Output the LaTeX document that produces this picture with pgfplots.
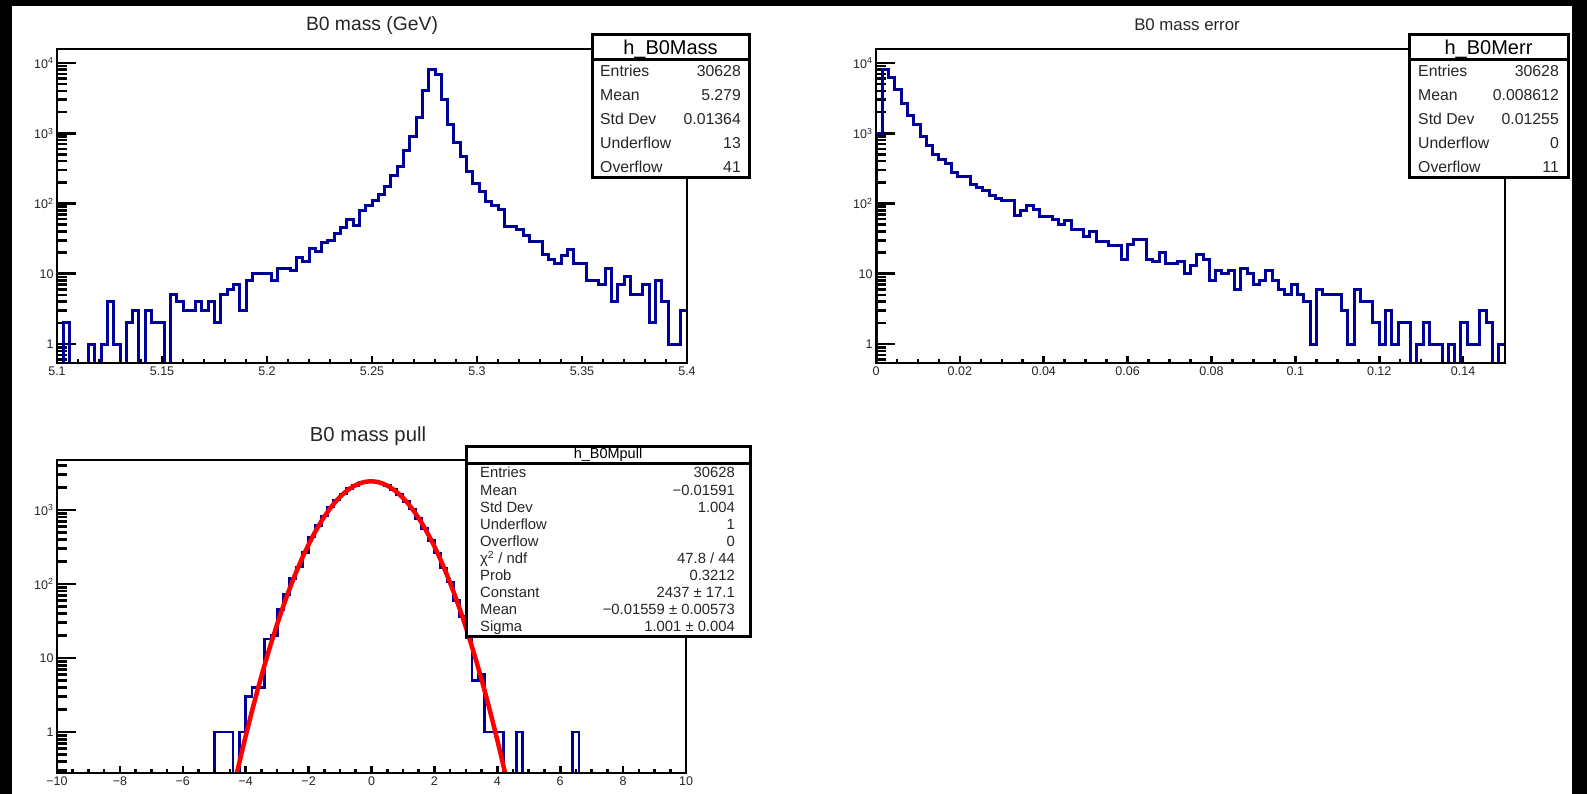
\documentclass[border=0pt]{standalone}
\usepackage{fontspec}
\setmainfont{Liberation Sans}
\usepackage{pgfplots}
\usepackage{pgfplotstable}
\pgfplotsset{compat=1.18}
\definecolor{histblue}{RGB}{0,0,155}
\definecolor{fitred}{RGB}{255,0,0}
\newcommand{\fs}[1]{\fontsize{#1}{#1}\selectfont}

% B0 mass: 100 bins, 5.1..5.4 (first row = start at bottom, last two rows = closing edge)
\pgfplotstableread{
i v
0 0
0 0
1 2
2 0
3 0
4 0
5 1
6 0
7 1
8 4
9 1
10 0
11 2
12 3
13 0
14 3
15 2
16 2
17 0
18 5
19 4
20 3
21 3
22 4
23 3
24 4
25 2
26 5
27 6
28 7
29 3
30 8
31 10
32 10
33 10
34 8
35 12
36 12
37 11
38 17
39 15
40 23
41 21
42 28
43 30
44 38
45 45
46 60
47 48
48 80
49 95
50 110
51 135
52 173
53 253
54 331
55 570
56 908
57 1670
58 4080
59 8040
60 6900
61 3000
62 1340
63 730
64 470
65 283
66 192
67 150
68 106
69 95
70 82
71 47
72 47
73 42
74 35
75 29
76 29
77 19
78 16
79 14
80 18
81 22
82 14
83 14
84 8
85 8
86 7
87 12
88 4
89 7
90 9
91 5
92 5
93 7
94 2
95 8
96 4
97 1
98 1
99 3
100 3
100 0
}\massdata

% B0 mass error: 100 bins, 0..0.15
\pgfplotstableread{
i v
0 0
0 1000
1 8000
2 6300
3 4200
4 2650
5 1800
6 1350
7 910
8 670
9 500
10 425
11 370
12 272
13 240
14 240
15 186
16 168
17 155
18 132
19 118
20 111
21 111
22 68
23 79
24 93
25 82
26 65
27 66
28 59
29 51
30 57
31 43
32 43
33 34
34 40
35 29
36 29
37 25
38 25
39 16
40 26
41 31
42 31
43 16
44 15
45 20
46 14
47 14
48 15
49 10
50 13
51 19
52 16
53 8
54 11
55 10
56 11
57 6
58 12
59 10
60 7
61 8
62 11
63 8
64 6
65 5
66 7
67 5
68 4
69 1
70 6
71 5
72 5
73 5
74 3
75 1
76 6
77 4
78 4
79 2
80 1
81 3
82 1
83 2
84 2
85 0
86 1
87 2
88 1
89 1
90 0
91 1
92 0
93 2
94 1
95 1
96 3
97 2
98 0
99 1
100 1
100 0
}\errdata

% B0 mass pull: 100 bins, -10..10
\pgfplotstableread{
i v
20 0
25 1
26 1
27 1
28 0
29 1
30 3
31 4
32 4
33 18
34 20
35 45
36 72
37 118
38 170
39 268
40 430
41 615
42 830
43 1100
44 1360
45 1640
46 1935
47 2160
48 2350
49 2420
50 2430
51 2310
52 2140
53 1880
54 1610
55 1300
56 1030
57 770
58 565
59 385
60 262
61 165
62 106
63 60
64 36
65 19
66 5
67 6
68 1
69 1
70 1
71 0
72 0
73 1
74 0
75 0
76 0
77 0
78 0
79 0
80 0
81 0
82 1
83 0
84 0
}\pulldata

\begin{document}
\begin{tikzpicture}
\fill[black] (0pt,0pt) rectangle (1587pt,794pt);
\fill[white] (12pt,0pt) rectangle (1572pt,788pt);

% ---------- B0 mass ----------
\begin{axis}[at={(57pt,431pt)}, anchor=south west,
  scale only axis, width=630pt, height=314pt,
  ymode=log,
  axis line style={line width=2.7pt, black},
  tick align=inside, tick pos=left,
  tick style={line width=2.6pt, black},
  major tick length=19pt, minor tick length=10pt,
  yticklabel style={font=\fs{12.5}, text=black!85},
  xtick=\empty,
  xmin=5.1, xmax=5.4, ymin=0.537, ymax=15800,
  ytick={1,10,100,1000,10000},
  yticklabels={1,10,10\textsuperscript{2},10\textsuperscript{3},10\textsuperscript{4}},
  minor ytick={0.6,0.7,0.8,0.9,2,3,4,5,6,7,8,9,20,30,40,50,60,70,80,90,200,300,400,500,600,700,800,900,2000,3000,4000,5000,6000,7000,8000,9000}]
\addplot[const plot, histblue, line width=3pt] table[x expr={5.1+0.003*\thisrow{i}}, y expr={max(\thisrow{v},0.01)}] {\massdata};
\end{axis}
\begin{axis}[at={(57pt,431pt)}, anchor=south west,
  scale only axis, width=630pt, height=314pt,
  axis line style={line width=2.7pt, black},
  tick align=inside, tick pos=left,
  tick style={line width=2.6pt, black},
  major tick length=7pt, minor tick length=3.5pt,
  xticklabel style={font=\fs{12.5}, text=black!85},
  ymin=0, ymax=1, ytick=\empty,
  xmin=5.1, xmax=5.4,
  xtick={5.1,5.15,5.2,5.25,5.3,5.35,5.4},
  xticklabels={5.1,5.15,5.2,5.25,5.3,5.35,5.4},
  minor x tick num=4]
\end{axis}

% ---------- B0 mass error ----------
\begin{axis}[at={(876pt,431pt)}, anchor=south west,
  scale only axis, width=629pt, height=314pt,
  ymode=log,
  axis line style={line width=2.7pt, black},
  tick align=inside, tick pos=left,
  tick style={line width=2.6pt, black},
  major tick length=19pt, minor tick length=10pt,
  yticklabel style={font=\fs{12.5}, text=black!85},
  xtick=\empty,
  xmin=0, xmax=0.15, ymin=0.537, ymax=15800,
  ytick={1,10,100,1000,10000},
  yticklabels={1,10,10\textsuperscript{2},10\textsuperscript{3},10\textsuperscript{4}},
  minor ytick={0.6,0.7,0.8,0.9,2,3,4,5,6,7,8,9,20,30,40,50,60,70,80,90,200,300,400,500,600,700,800,900,2000,3000,4000,5000,6000,7000,8000,9000}]
\addplot[const plot, histblue, line width=3pt] table[x expr={0.0015*\thisrow{i}}, y expr={max(\thisrow{v},0.01)}] {\errdata};
\end{axis}
\begin{axis}[at={(876pt,431pt)}, anchor=south west,
  scale only axis, width=629pt, height=314pt,
  axis line style={line width=2.7pt, black},
  tick align=inside, tick pos=left,
  tick style={line width=2.6pt, black},
  major tick length=7pt, minor tick length=3.5pt,
  xticklabel style={font=\fs{12.5}, text=black!85},
  ymin=0, ymax=1, ytick=\empty,
  xmin=0, xmax=0.15,
  xtick={0,0.02,0.04,0.06,0.08,0.1,0.12,0.14},
  xticklabels={0,0.02,0.04,0.06,0.08,0.1,0.12,0.14},
  minor x tick num=3]
\end{axis}

% ---------- B0 mass pull ----------
\begin{axis}[at={(57pt,21pt)}, anchor=south west,
  scale only axis, width=629pt, height=313pt,
  ymode=log,
  axis line style={line width=2.7pt, black},
  tick align=inside, tick pos=left,
  tick style={line width=2.6pt, black},
  major tick length=19pt, minor tick length=10pt,
  yticklabel style={font=\fs{12.5}, text=black!85},
  xtick=\empty,
  xmin=-10, xmax=10, ymin=0.28, ymax=4730,
  ytick={1,10,100,1000},
  yticklabels={1,10,10\textsuperscript{2},10\textsuperscript{3}},
  minor ytick={0.3,0.4,0.5,0.6,0.7,0.8,0.9,2,3,4,5,6,7,8,9,20,30,40,50,60,70,80,90,200,300,400,500,600,700,800,900,2000,3000,4000}]
\addplot[const plot, histblue, line width=2.7pt] table[x expr={-10+0.2*\thisrow{i}}, y expr={max(\thisrow{v},0.01)}] {\pulldata};
\addplot[fitred, line width=4.5pt, smooth] coordinates {
(-4.4,0.166) (-4.2,0.391) (-4.0,0.884) (-3.8,1.92) (-3.6,4.00) (-3.4,8.03)
(-3.2,15.5) (-3.0,28.6) (-2.8,50.9) (-2.6,87.0) (-2.4,142.9) (-2.2,225.3)
(-2.0,341.5) (-1.8,497.6) (-1.6,696.3) (-1.4,936.5) (-1.2,1210.2) (-1.0,1502.7)
(-0.8,1792.6) (-0.6,2055.1) (-0.4,2263.7) (-0.2,2396.1) (0,2436.7) (0.2,2381.2)
(0.4,2235.7) (0.6,2017.1) (0.8,1748.5) (1.0,1456.6) (1.2,1165.9) (1.4,896.5)
(1.6,662.6) (1.8,470.3) (2.0,320.9) (2.2,210.3) (2.4,132.5) (2.6,80.2)
(2.8,46.6) (3.0,26.1) (3.2,14.0) (3.4,7.23) (3.6,3.58) (3.8,1.70)
(4.0,0.780) (4.2,0.343) (4.4,0.145)};
\end{axis}
\begin{axis}[at={(57pt,21pt)}, anchor=south west,
  scale only axis, width=629pt, height=313pt,
  axis line style={line width=2.7pt, black},
  tick align=inside, tick pos=left,
  tick style={line width=2.6pt, black},
  major tick length=7pt, minor tick length=3.5pt,
  xticklabel style={font=\fs{12.5}, text=black!85},
  ymin=0, ymax=1, ytick=\empty,
  xmin=-10, xmax=10,
  xtick={-10,-8,-6,-4,-2,0,2,4,6,8,10},
  xticklabels={−10,−8,−6,−4,−2,0,2,4,6,8,10},
  minor x tick num=3]
\end{axis}

% ---------- titles ----------
\node[anchor=base, inner sep=0pt, font=\fs{19.3}, text=black!85] at (372pt,763.3pt) {B0 mass (GeV)};
\node[anchor=base, inner sep=0pt, font=\fs{16.8}, text=black!85] at (1187pt,763.3pt) {B0 mass error};
\node[anchor=base, inner sep=0pt, font=\fs{20.3}, text=black!85] at (368pt,352.3pt) {B0 mass pull};

% ---------- stats box: h_B0Mass ----------
\filldraw[fill=white, draw=black, line width=3pt] (592pt,759pt) rectangle (749pt,616pt);
\draw[black, line width=3pt] (592pt,734pt) -- (749pt,734pt);
\node[anchor=base, inner sep=0pt, font=\fs{20}] at (670.5pt,739.7pt) {h\_B0Mass};
\begin{scope}[every node/.style={inner sep=0pt, font=\fs{15.8}, text=black!85}]
\node[anchor=base west] at (600pt,717.3pt) {Entries};
\node[anchor=base east] at (741pt,717.3pt) {30628};
\node[anchor=base west] at (600pt,693.3pt) {Mean};
\node[anchor=base east] at (741pt,693.3pt) {5.279};
\node[anchor=base west] at (600pt,669.3pt) {Std Dev};
\node[anchor=base east] at (741pt,669.3pt) {0.01364};
\node[anchor=base west] at (600pt,645.3pt) {Underflow};
\node[anchor=base east] at (741pt,645.3pt) {13};
\node[anchor=base west] at (600pt,621.3pt) {Overflow};
\node[anchor=base east] at (741pt,621.3pt) {41};
\end{scope}

% ---------- stats box: h_B0Merr ----------
\filldraw[fill=white, draw=black, line width=3pt] (1409pt,759pt) rectangle (1568pt,616pt);
\draw[black, line width=3pt] (1409pt,734pt) -- (1568pt,734pt);
\node[anchor=base, inner sep=0pt, font=\fs{20}] at (1488.5pt,739.7pt) {h\_B0Merr};
\begin{scope}[every node/.style={inner sep=0pt, font=\fs{15.8}, text=black!85}]
\node[anchor=base west] at (1418pt,717.3pt) {Entries};
\node[anchor=base east] at (1559pt,717.3pt) {30628};
\node[anchor=base west] at (1418pt,693.3pt) {Mean};
\node[anchor=base east] at (1559pt,693.3pt) {0.008612};
\node[anchor=base west] at (1418pt,669.3pt) {Std Dev};
\node[anchor=base east] at (1559pt,669.3pt) {0.01255};
\node[anchor=base west] at (1418pt,645.3pt) {Underflow};
\node[anchor=base east] at (1559pt,645.3pt) {0};
\node[anchor=base west] at (1418pt,621.3pt) {Overflow};
\node[anchor=base east] at (1559pt,621.3pt) {11};
\end{scope}

% ---------- stats box: h_B0Mpull ----------
\filldraw[fill=white, draw=black, line width=3pt] (466pt,347pt) rectangle (750pt,157pt);
\draw[black, line width=3pt] (466pt,330pt) -- (750pt,330pt);
\node[anchor=base, inner sep=0pt, font=\fs{14.5}] at (608pt,335.7pt) {h\_B0Mpull};
\begin{scope}[every node/.style={inner sep=0pt, font=\fs{14.8}, text=black!85}]
\node[anchor=base west] at (480pt,316pt) {Entries};
\node[anchor=base east] at (735pt,316pt) {30628};
\node[anchor=base west] at (480pt,298.9pt) {Mean};
\node[anchor=base east] at (735pt,298.9pt) {−0.01591};
\node[anchor=base west] at (480pt,281.8pt) {Std Dev};
\node[anchor=base east] at (735pt,281.8pt) {1.004};
\node[anchor=base west] at (480pt,264.7pt) {Underflow};
\node[anchor=base east] at (735pt,264.7pt) {1};
\node[anchor=base west] at (480pt,247.6pt) {Overflow};
\node[anchor=base east] at (735pt,247.6pt) {0};
\node[anchor=base west] at (480pt,230.5pt) {χ\textsuperscript{2} / ndf};
\node[anchor=base east] at (735pt,230.5pt) {47.8 / 44};
\node[anchor=base west] at (480pt,213.4pt) {Prob};
\node[anchor=base east] at (735pt,213.4pt) {0.3212};
\node[anchor=base west] at (480pt,196.3pt) {Constant};
\node[anchor=base east] at (735pt,196.3pt) {2437 ± 17.1};
\node[anchor=base west] at (480pt,179.2pt) {Mean};
\node[anchor=base east] at (735pt,179.2pt) {−0.01559 ± 0.00573};
\node[anchor=base west] at (480pt,162.1pt) {Sigma};
\node[anchor=base east] at (735pt,162.1pt) {1.001 ± 0.004};
\end{scope}
\end{tikzpicture}
\end{document}
